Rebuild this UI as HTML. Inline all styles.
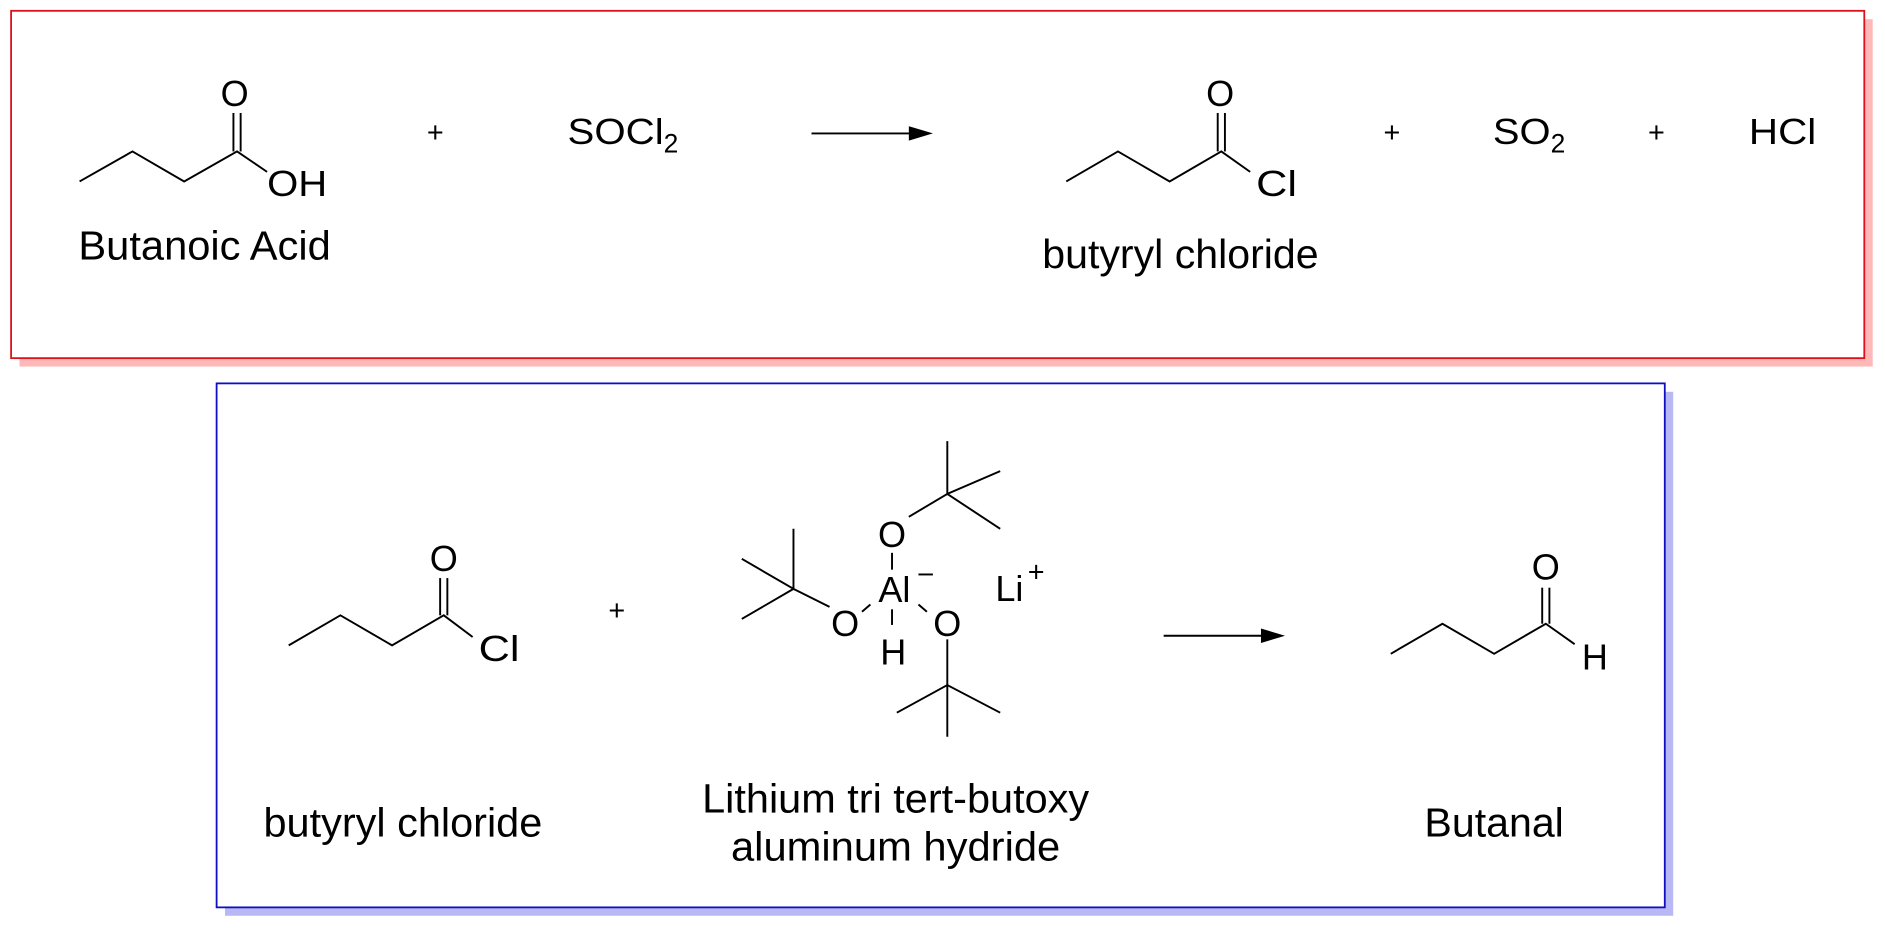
<!DOCTYPE html>
<html><head><meta charset="utf-8"><style>html,body{margin:0;padding:0;background:#fff}svg{display:block}</style></head>
<body>
<svg width="1885" height="929" viewBox="0 0 1568 773" xmlns="http://www.w3.org/2000/svg" font-family="Liberation Sans, Arial, sans-serif" fill="#000">
<rect x="16" y="16" width="1542" height="289" fill="#ffb8b8"/>
<rect x="9" y="9" width="1542" height="289" fill="#fff" stroke="#e0101a" stroke-width="1.5"/>
<rect x="187" y="326" width="1205" height="436" fill="#b8b8f4"/>
<rect x="180" y="319" width="1205" height="436" fill="#fff" stroke="#1010c0" stroke-width="1.5"/>
<g stroke="#000" stroke-width="1.6" fill="none">
<polyline points="66,151 110,126 153,151 197,126 222,143"/>
<line x1="194" y1="126" x2="194" y2="94"/><line x1="200" y1="126" x2="200" y2="94"/>
<polyline points="887,151 930,126 973,151 1016,126 1040,143"/>
<line x1="1013" y1="126" x2="1013" y2="94"/><line x1="1019" y1="126" x2="1019" y2="94"/>
<line x1="675" y1="111" x2="762" y2="111"/>
<polyline points="240,537 283,512 326,537 369,512 393,530"/>
<line x1="366" y1="512" x2="366" y2="481"/><line x1="372" y1="512" x2="372" y2="481"/>
<line x1="968" y1="529" x2="1055" y2="529"/>
<polyline points="1157,544 1200,519 1243,544 1286,519 1310,536"/>
<line x1="1283" y1="519" x2="1283" y2="489"/><line x1="1289" y1="519" x2="1289" y2="489"/>
<line x1="742" y1="460" x2="742" y2="474"/>
<line x1="742" y1="507" x2="742" y2="520"/>
<line x1="717" y1="509" x2="724" y2="503"/>
<line x1="764" y1="503" x2="771" y2="509"/>
<line x1="756" y1="430" x2="788" y2="411"/>
<polyline points="788,367 788,411 832,392"/><line x1="788" y1="411" x2="832" y2="440"/>
<line x1="690" y1="505" x2="660" y2="490"/>
<polyline points="660,440 660,490 617,465"/><line x1="660" y1="490" x2="617" y2="515"/>
<polyline points="788,532 788,613"/>
<polyline points="746,593 788,570 832,593"/>
</g>
<polygon points="776,111 756,105 756,117"/>
<polygon points="1069,529 1049,523 1049,535"/>
<g font-size="30" lengthAdjust="spacingAndGlyphs">
<text x="195" y="88" text-anchor="middle">O</text>
<text x="222" y="163" textLength="50" lengthAdjust="spacingAndGlyphs">OH</text>
<text x="1015" y="88" text-anchor="middle">O</text>
<text x="1045" y="163" textLength="34" lengthAdjust="spacingAndGlyphs">Cl</text>
<text x="472" y="120"><tspan textLength="80" lengthAdjust="spacingAndGlyphs">SOCl</tspan><tspan font-size="22" dy="7">2</tspan></text>
<text x="1242" y="120"><tspan textLength="48" lengthAdjust="spacingAndGlyphs">SO</tspan><tspan font-size="22" dy="7">2</tspan></text>
<text x="1455" y="120" textLength="56" lengthAdjust="spacingAndGlyphs">HCl</text>
<text x="369" y="475" text-anchor="middle">O</text>
<text x="398" y="550" textLength="34" lengthAdjust="spacingAndGlyphs">Cl</text>
<text x="1286" y="482" text-anchor="middle">O</text>
<text x="1316" y="557">H</text>
<text x="742" y="455" text-anchor="middle">O</text>
<text x="744" y="501" text-anchor="middle">Al</text>
<text x="703" y="529" text-anchor="middle">O</text>
<text x="788" y="529" text-anchor="middle">O</text>
<text x="743" y="553" text-anchor="middle">H</text>
<text x="828" y="500">Li</text>
</g>
<g font-size="24">
<text x="362" y="118" text-anchor="middle">+</text>
<text x="1158" y="118" text-anchor="middle">+</text>
<text x="1378" y="118" text-anchor="middle">+</text>
<text x="513" y="516" text-anchor="middle">+</text>
<text x="862" y="484" text-anchor="middle">+</text>
</g>
<line x1="764" y1="478" x2="776" y2="478" stroke="#000" stroke-width="1.6"/>
<g font-size="34">
<text x="65" y="216" textLength="210" lengthAdjust="spacingAndGlyphs">Butanoic Acid</text>
<text x="867" y="223" textLength="230" lengthAdjust="spacingAndGlyphs">butyryl chloride</text>
<text x="219" y="696" textLength="232" lengthAdjust="spacingAndGlyphs">butyryl chloride</text>
<text x="584" y="676" textLength="322" lengthAdjust="spacingAndGlyphs">Lithium tri tert-butoxy</text>
<text x="608" y="716" textLength="274" lengthAdjust="spacingAndGlyphs">aluminum hydride</text>
<text x="1185" y="696" textLength="116" lengthAdjust="spacingAndGlyphs">Butanal</text>
</g>
</svg>
</body></html>
